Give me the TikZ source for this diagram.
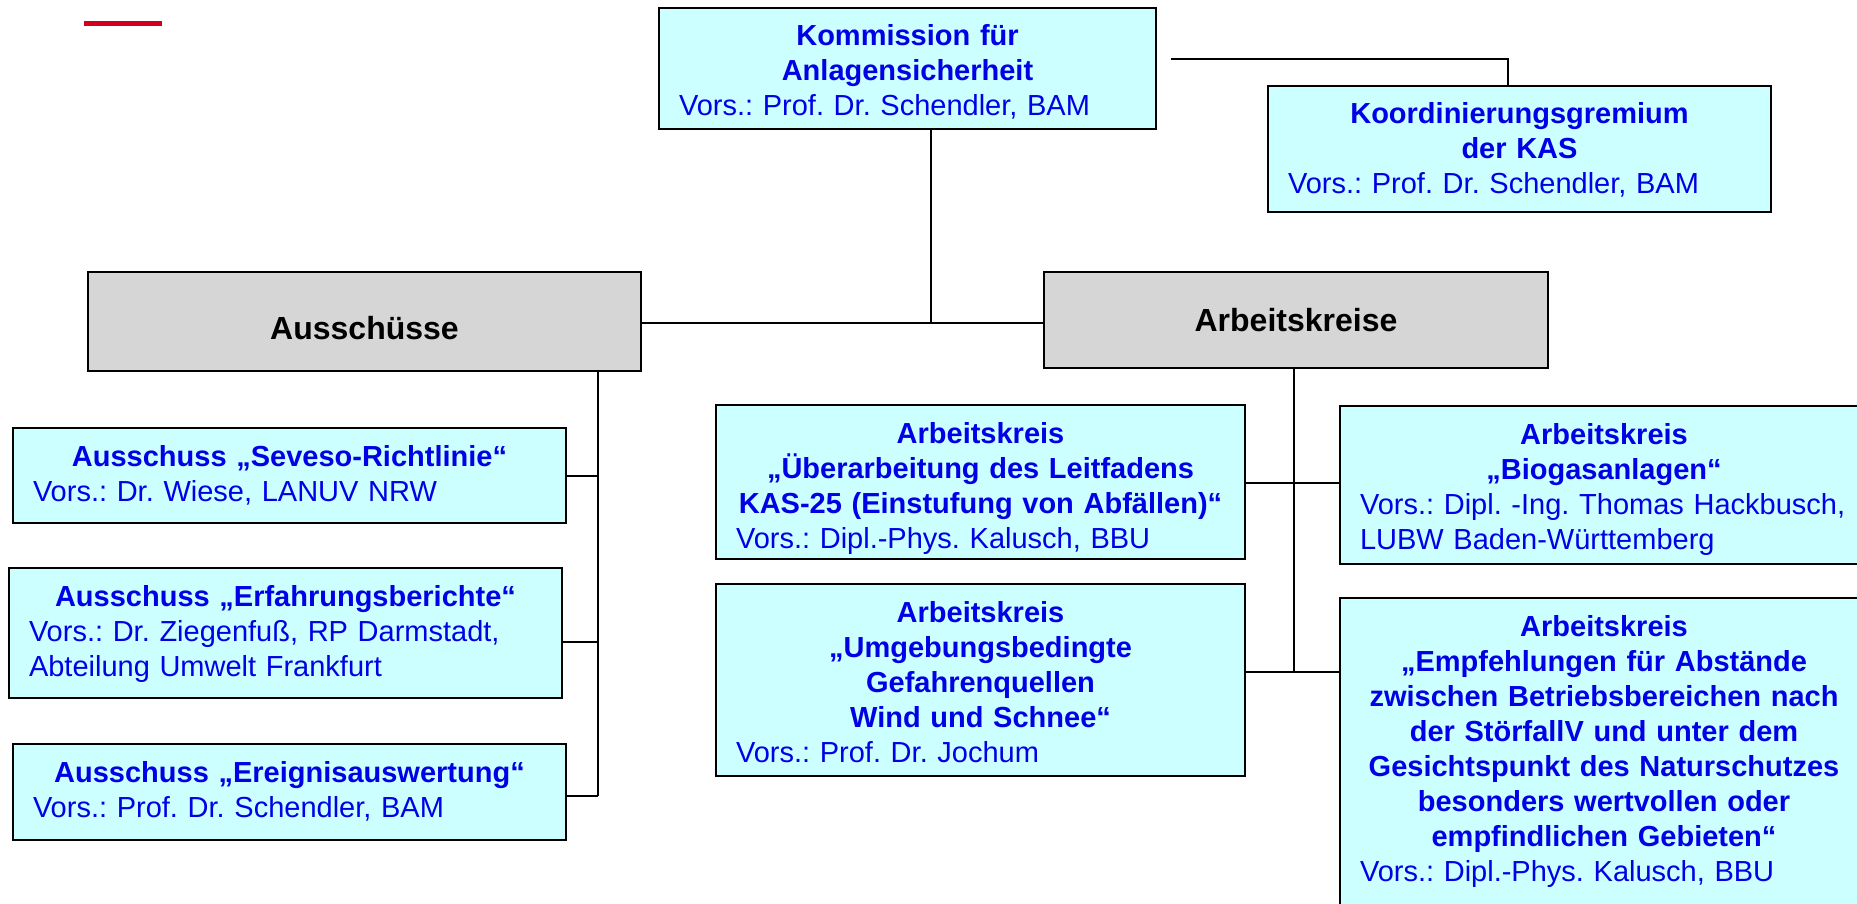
\documentclass[tikz,border=0pt]{standalone}
\usepackage{fontspec}
\setmainfont{Liberation Sans}
\frenchspacing
\definecolor{kascyan}{RGB}{204,255,255}
\definecolor{kasgray}{RGB}{214,214,214}
\definecolor{kasblue}{RGB}{0,0,230}
\definecolor{kasred}{RGB}{210,0,30}
\newcommand{\vors}[1]{\makebox[\linewidth][l]{#1}}
\tikzset {
    gremium/.style = {
        draw, line width = 2pt, fill = kascyan, text = kasblue,
        anchor = north west, inner xsep = 20pt, inner ysep = 0pt,
        align = center, text height = 38pt,
        font = \fontsize{29}{35}\selectfont
    },
    gruppe/.style = {
        draw, line width = 2pt, fill = kasgray,
        anchor = north west, inner sep = 0pt,
        font = \fontsize{32}{38}\selectfont\bfseries
    },
    verbindung/.style = {line width = 2pt},
}

\begin{document}
\begin{tikzpicture}[x = 1pt, y = -1pt]
    \useasboundingbox (0, 0) rectangle (1857, 904);
    \draw [kasred, line width = 5pt] (84, 24) -- (162, 24);
    % kommission and koordinierung
    \node (kas) [gremium, text width = 457pt, text depth = 83pt] at (658, 7)
        {{\bfseries Kommission für\\ Anlagensicherheit}\\ \vors{Vors.: Prof. Dr. Schendler, BAM}};
    \node (koord) [gremium, text width = 463pt, text depth = 88pt] at (1267, 85)
        {{\bfseries Koordinierungsgremium\\ der KAS}\\ \vors{Vors.: Prof. Dr. Schendler, BAM}};
    \node (aus) [gruppe, minimum width = 553pt, text height = 67pt, text depth = 32pt] at (87, 271) {Ausschüsse};
    \node (ak) [gruppe, minimum width = 504pt, text height = 59pt, text depth = 37pt] at (1043, 271) {Arbeitskreise};
    % ausschuesse
    \node (sev) [gremium, text width = 513pt, text depth = 57pt] at (12, 427)
        {{\bfseries Ausschuss „Seveso-Richtlinie“}\\ \vors{Vors.: Dr. Wiese, LANUV NRW}};
    \node (erf) [gremium, text width = 513pt, text depth = 92pt] at (8, 567)
        {{\bfseries Ausschuss „Erfahrungsberichte“}\\ \vors{Vors.: Dr. Ziegenfuß, RP Darmstadt,}\\ \vors{Abteilung Umwelt Frankfurt}};
    \node (ereig) [gremium, text width = 513pt, text depth = 58pt] at (12, 743)
        {{\bfseries Ausschuss „Ereignisauswertung“}\\ \vors{Vors.: Prof. Dr. Schendler, BAM}};
    % arbeitskreise
    \node (ueb) [gremium, text width = 489pt, text depth = 116pt] at (715, 404)
        {{\bfseries Arbeitskreis\\ „Überarbeitung des Leitfadens\\ KAS-25 (Einstufung von Abfällen)“}\\ \vors{Vors.: Dipl.-Phys. Kalusch, BBU}};
    \node (umg) [gremium, text width = 489pt, text depth = 154pt] at (715, 583)
        {{\bfseries Arbeitskreis\\ „Umgebungsbedingte\\ Gefahrenquellen\\ Wind und Schnee“}\\ \vors{Vors.: Prof. Dr. Jochum}};
    \node (bio) [gremium, text width = 488pt, text depth = 120pt] at (1339, 405)
        {{\bfseries Arbeitskreis\\ „Biogasanlagen“}\\ \vors{Vors.: Dipl. -Ing. Thomas Hackbusch,}\\ \vors{LUBW Baden-Württemberg}};
    \node (empf) [gremium, text width = 488pt, text depth = 282pt] at (1339, 597)
        {{\bfseries Arbeitskreis\\ „Empfehlungen für Abstände\\ zwischen Betriebsbereichen nach\\ der StörfallV und unter dem\\ Gesichtspunkt des Naturschutzes\\ besonders wertvollen oder\\ empfindlichen Gebieten“}\\ \vors{Vors.: Dipl.-Phys. Kalusch, BBU}};
    % lines
    \coordinate (kx) at (931, 323);
    \coordinate (a1) at (598, 476);
    \coordinate (a2) at (598, 642);
    \coordinate (a3) at (598, 796);
    \coordinate (b1) at (1294, 483);
    \coordinate (b2) at (1294, 672);
    \draw [verbindung] ([shift = {(14, -9)}]kas.east) -| ([shift = {(-12, 0)}]koord.north);
    \draw [verbindung] (kas.south -| kx) -- (kx);
    \draw [verbindung] (aus.east |- kx) -- (ak.west |- kx);
    \draw [verbindung] (aus.south -| a1) -- (a3);
    \foreach \n/\c in {sev/a1, erf/a2, ereig/a3}
        \draw [verbindung] (\n.east |- \c) -- (\c);
    \draw [verbindung] (ak.south -| b1) -- (b2);
    \draw [verbindung] (ueb.east |- b1) -- (bio.west |- b1);
    \draw [verbindung] (umg.east |- b2) -- (empf.west |- b2);
\end{tikzpicture}
\end{document}
